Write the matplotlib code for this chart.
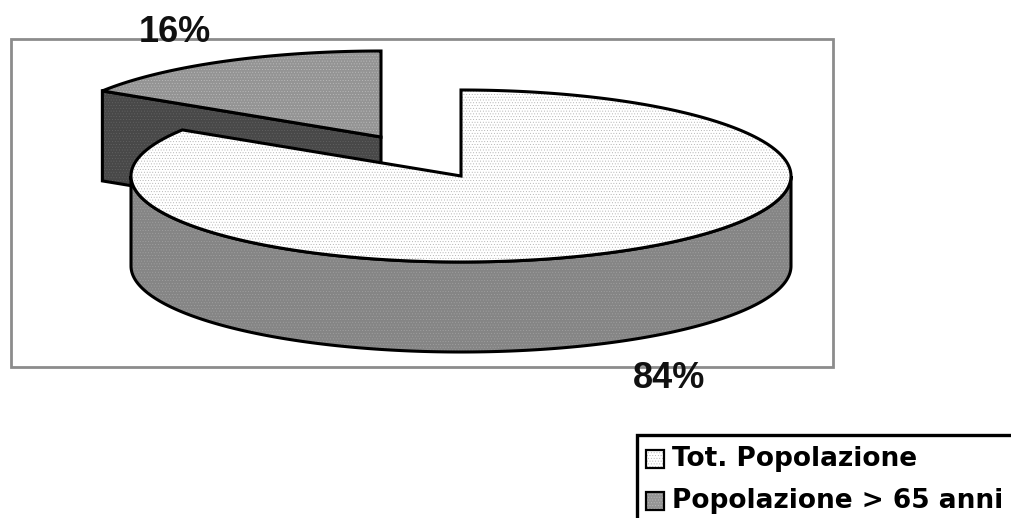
import numpy as np
import matplotlib
matplotlib.use("Agg")
import matplotlib.pyplot as plt
from matplotlib.patches import Polygon, Rectangle

categories = ["Tot. Popolazione", "Popolazione > 65 anni"]
shares = [84, 16]
labels = ["84%", "16%"]

plt.rcParams['hatch.linewidth'] = 0.3
fig = plt.figure(figsize=(10.12, 5.18), dpi=100)
ax = fig.add_axes([0, 0, 1, 1])
ax.set_xlim(0, 1012)
ax.set_ylim(518, 0)
ax.axis("off")

RX, RY, DEPTH = 330, 86, 90
BIG_C = (461, 176)
SMALL_C = (381, 137)
INK = "#000000"


def arc(center, a0, a1, n=200):
    """Points on the ellipse; angles in degrees clockwise from 12 o'clock."""
    t = np.radians(np.linspace(a0, a1, n))
    return np.column_stack([center[0] + RX * np.sin(t), center[1] - RY * np.cos(t)])


def fill(points, face, dots):
    ax.add_patch(Polygon(points, closed=True, facecolor=face, edgecolor=dots,
                         hatch="......", linewidth=0, zorder=ax_z[0]))
    ax.add_patch(Polygon(points, closed=True, fill=False, edgecolor=INK,
                         linewidth=2.2, joinstyle="miter", zorder=ax_z[0]))
    ax_z[0] += 1


ax_z = [3]
ax.add_patch(Rectangle((11, 39), 822, 328, fill=False, edgecolor="#8c8c8c", linewidth=2, zorder=1))

split = 360 * shares[0] / sum(shares)

# detached small slice
rim = arc(SMALL_C, split, 360)
corner = rim[0]
cut_face = [tuple(corner), SMALL_C, (SMALL_C[0], SMALL_C[1] + DEPTH), (corner[0], corner[1] + DEPTH)]
fill(cut_face, "#484848", "#666666")
fill(np.vstack([[SMALL_C], rim]), "#949494", "#c0c0c0")

# large slice: outer wall then top
front = arc(BIG_C, 90, 270)
wall = np.vstack([front, front[::-1] + [0, DEPTH]])
fill(wall, "#858585", "#a4a4a4")
fill(np.vstack([[BIG_C], arc(BIG_C, 0, split, 400)]), "#ffffff", "#a8a8a8")

# percentage labels
ax.text(669, 378, labels[0], fontsize=26, fontweight="bold", family="Liberation Sans",
        ha="center", va="center", color="#111111", zorder=20)
ax.text(175, 32, labels[1], fontsize=26, fontweight="bold", family="Liberation Sans",
        ha="center", va="center", color="#111111", zorder=20)

# legend, cut off by the picture edge
ax.add_patch(Rectangle((637, 435), 420, 120, facecolor="white", edgecolor=INK, linewidth=2.4, zorder=21))
swatches = [("#ffffff", "#a8a8a8"), ("#949494", "#c0c0c0")]
for name, (face, dots), y in zip(categories, swatches, [459, 501]):
    ax.add_patch(Rectangle((646, y - 9), 18, 18, facecolor=face, edgecolor=dots, hatch="......",
                           linewidth=0, zorder=22))
    ax.add_patch(Rectangle((646, y - 9), 18, 18, fill=False, edgecolor=INK, linewidth=1.6, zorder=23))
    ax.text(672, y, name, fontsize=19, fontweight="bold", family="DejaVu Sans",
            ha="left", va="center", color=INK, zorder=24)

fig.savefig("out.png", dpi=100)
